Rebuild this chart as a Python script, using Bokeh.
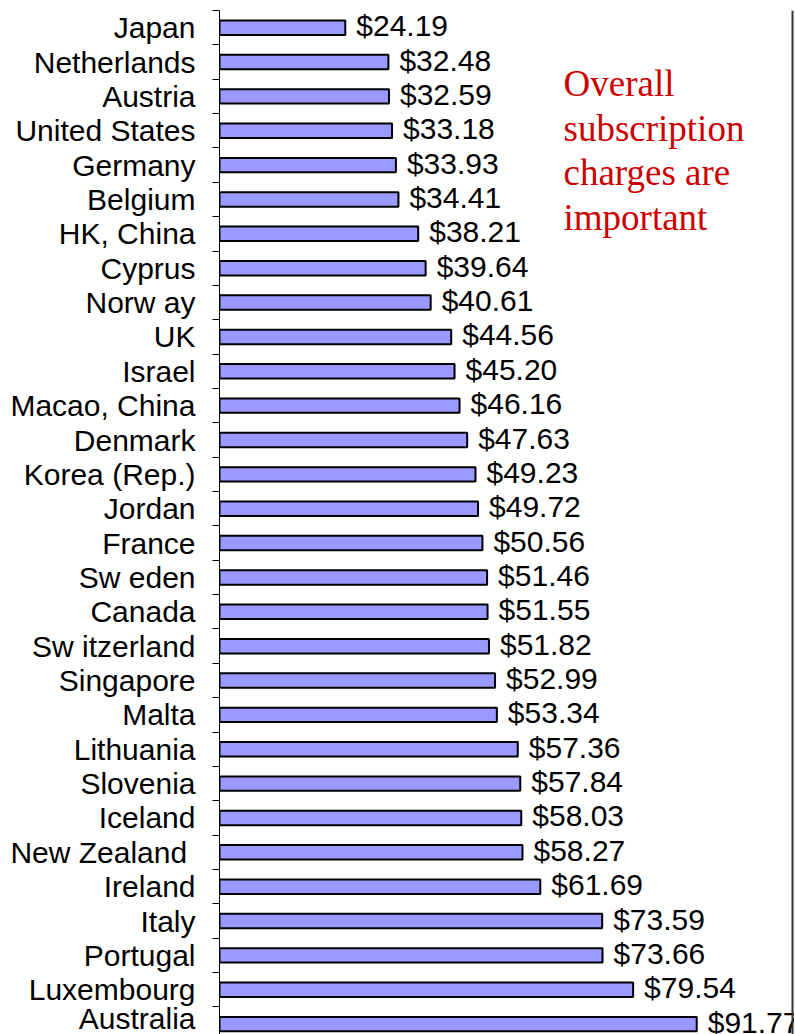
from bokeh.plotting import figure
from bokeh.models import ColumnDataSource, FixedTicker, Range1d, Span, Label
from bokeh.core.properties import value
from bokeh.embed import file_html
from bokeh.resources import INLINE

categories = ["Japan", "Netherlands", "Austria", "United States", "Germany", "Belgium",
              "HK, China", "Cyprus", "Norw ay", "UK", "Israel", "Macao, China", "Denmark",
              "Korea (Rep.)", "Jordan", "France", "Sw eden", "Canada", "Sw itzerland",
              "Singapore", "Malta", "Lithuania", "Slovenia", "Iceland", "New  Zealand",
              "Ireland", "Italy", "Portugal", "Luxembourg", "Australia"]
values = [24.19, 32.48, 32.59, 33.18, 33.93, 34.41, 38.21, 39.64, 40.61, 44.56,
          45.20, 46.16, 47.63, 49.23, 49.72, 50.56, 51.46, 51.55, 51.82, 52.99,
          53.34, 57.36, 57.84, 58.03, 58.27, 61.69, 73.59, 73.66, 79.54, 91.77]
note_lines = ["Overall", "subscription", "charges are", "important"]

idx = list(range(len(categories)))
labels = ["$%.2f" % v for v in values]
src = ColumnDataSource(dict(y=idx, v=values, lab=labels))

W, H = 794, 1034
left_border = 219
top_border = 10
spacing = 34.36
top_val = -0.5
bottom_val = top_val + (H - top_border) / spacing
px_per_unit = 5.2
x_end = (W - left_border) / px_per_unit

p = figure(width=W, height=H, output_backend="svg", toolbar_location=None,
           x_range=Range1d(0, x_end), y_range=Range1d(bottom_val, top_val),
           min_border_left=left_border, min_border_right=0, min_border_top=top_border,
           min_border_bottom=0, background_fill_color="white", border_fill_color="white")
p.outline_line_color = None
p.grid.visible = False
p.xaxis.visible = False

p.hbar(y="y", left=0, right="v", height=0.42, source=src,
       fill_color="#9999FF", line_color="black", line_width=2)
p.text(x="v", y="y", text="lab", source=src, x_offset=11, y_offset=-2,
       text_baseline="middle", text_align="left", text_font=value("Liberation Sans"),
       text_font_size="30px", text_color="black")

ax = p.yaxis[0]
ax.ticker = FixedTicker(ticks=idx, minor_ticks=[i - 0.5 for i in range(len(categories) + 1)])
ax.major_label_overrides = {i: c for i, c in enumerate(categories)}
ax.major_tick_out = 0
ax.major_tick_in = 0
ax.minor_tick_out = 7
ax.minor_tick_in = 0
ax.minor_tick_line_color = "black"
ax.axis_line_color = "black"
ax.axis_line_width = 1
ax.major_label_standoff = 17
ax.major_label_text_font = "Liberation Sans"
ax.major_label_text_font_size = "30px"
ax.major_label_text_color = "black"

p.add_layout(Span(location=(792 - left_border) / px_per_unit, dimension="height",
                  line_color="#333333", line_width=2))

# annotation text (pixel layout converted to data units)
note_x = (563 - left_border) / px_per_unit
for k, line in enumerate(note_lines):
    base_px = 83 + 44.5 * k - top_border
    p.add_layout(Label(x=note_x, y=top_val + base_px / spacing, text=line,
                       text_font="Liberation Serif", text_font_size="37px",
                       text_color="#CC0000", text_baseline="alphabetic"))

open("out.html", "w").write(file_html(p, INLINE))
